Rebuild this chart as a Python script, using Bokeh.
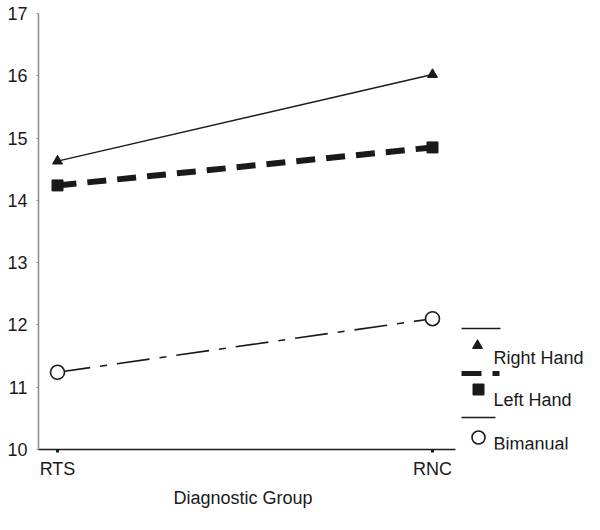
from bokeh.plotting import figure
from bokeh.models import Range1d, FixedTicker, Title
from bokeh.core.properties import value
from bokeh.embed import file_html
from bokeh.resources import INLINE

# ---- data ----
groups = ["RTS", "RNC"]
right_hand = [14.63, 16.02]
left_hand = [14.24, 14.85]
bimanual = [11.24, 12.10]
y_ticks = [10, 11, 12, 13, 14, 15, 16, 17]
series_names = ["Right Hand", "Left Hand", "Bimanual"]
x_title = "Diagnostic Group"

FONT = "Liberation Sans"
INK = "#1a1a1a"

# ---- layout (canvas pixels, from top-left) ----
W, H = 584, 514
FRAME_L, FRAME_R = 38, 584
FRAME_T, FRAME_B = 13, 449
PX_FIRST, PX_LAST = 57, 432      # where the first / last group sit
AXIS_END_PX = 455                # where the x-axis line stops
TITLE_LEFT_PX = 173              # left edge of the x-axis title
Y_MIN, Y_MAX = y_ticks[0], y_ticks[-1]

xs = list(range(len(groups)))
unit_px = (PX_LAST - PX_FIRST) / (xs[-1] - xs[0])


def dx(px):
    return xs[0] + (px - PX_FIRST) / unit_px


def dy(py):
    return Y_MIN + (FRAME_B - py) * (Y_MAX - Y_MIN) / (FRAME_B - FRAME_T)


p = figure(width=W, height=H, output_backend="svg", toolbar_location=None,
           x_range=Range1d(dx(FRAME_L), dx(FRAME_R)), y_range=Range1d(Y_MIN, Y_MAX),
           min_border_left=FRAME_L, min_border_right=W - FRAME_R,
           min_border_top=FRAME_T, min_border_bottom=H - FRAME_B)
p.outline_line_color = None
p.grid.visible = False
p.background_fill_color = "white"
p.border_fill_color = "white"

# x axis
p.xaxis.ticker = FixedTicker(ticks=xs)
p.xaxis.bounds = (dx(FRAME_L), dx(AXIS_END_PX))
p.xaxis.major_label_overrides = {i: g for i, g in zip(xs, groups)}
p.xaxis.major_label_text_font = FONT
p.xaxis.major_label_text_font_size = "18px"
p.xaxis.major_label_text_color = INK
p.xaxis.major_label_standoff = 6
p.xaxis.axis_line_color = INK
p.xaxis.axis_line_width = 1.5
p.xaxis.major_tick_line_color = INK
p.xaxis.major_tick_line_width = 3
p.xaxis.major_tick_in = 0
p.xaxis.major_tick_out = 3
p.xaxis.minor_tick_line_color = None

# y axis
p.yaxis.ticker = FixedTicker(ticks=y_ticks)
p.yaxis.major_label_text_font = FONT
p.yaxis.major_label_text_font_size = "18px"
p.yaxis.major_label_text_color = INK
p.yaxis.major_label_standoff = 9
p.yaxis.axis_line_color = "#8a8a8a"
p.yaxis.axis_line_width = 1.5
p.yaxis.major_tick_line_color = "#8a8a8a"
p.yaxis.major_tick_in = 0
p.yaxis.major_tick_out = 2
p.yaxis.minor_tick_line_color = None

# x-axis title, placed below the axis, under the drawn part of the axis
p.add_layout(Title(text=x_title, align="left", offset=TITLE_LEFT_PX - FRAME_L,
                   text_font=FONT, text_font_size="18px", text_font_style="normal",
                   text_color=INK, standoff=8), "below")

# series
p.line(xs, right_hand, line_color=INK, line_width=1.5)
p.scatter(xs, right_hand, marker="triangle", size=10, fill_color=INK, line_color=INK)

p.line(xs, left_hand, line_color=INK, line_width=6, line_dash="19 11")
p.scatter(xs, left_hand, marker="square", size=11, fill_color=INK, line_color=INK)

p.line(xs, bimanual, line_color=INK, line_width=1.6, line_dash="33 10 7 10")
p.scatter(xs, bimanual, marker="circle", size=14, fill_color="white", line_color=INK, line_width=1.6)

# ---- legend (sample line above marker, label right of marker) ----
p.line([dx(461), dx(500)], [dy(328)] * 2, line_color=INK, line_width=1.5)
p.scatter([dx(477)], [dy(345)], marker="triangle", size=10, fill_color=INK, line_color=INK)
p.line([dx(461), dx(499)], [dy(373)] * 2, line_color=INK, line_width=5, line_dash="20 11")
p.scatter([dx(478)], [dy(389)], marker="square", size=11, fill_color=INK, line_color=INK)
p.line([dx(461), dx(495)], [dy(417)] * 2, line_color=INK, line_width=1.5)
p.scatter([dx(478)], [dy(437)], marker="circle", size=13, fill_color="white", line_color=INK, line_width=1.6)

p.text(x=[dx(493)] * 3, y=[dy(357), dy(399), dy(443)], text=series_names,
       text_font=value(FONT), text_font_size="18px", text_color=INK,
       text_baseline="middle", text_align="left")

open("out.html", "w").write(file_html(p, INLINE))
